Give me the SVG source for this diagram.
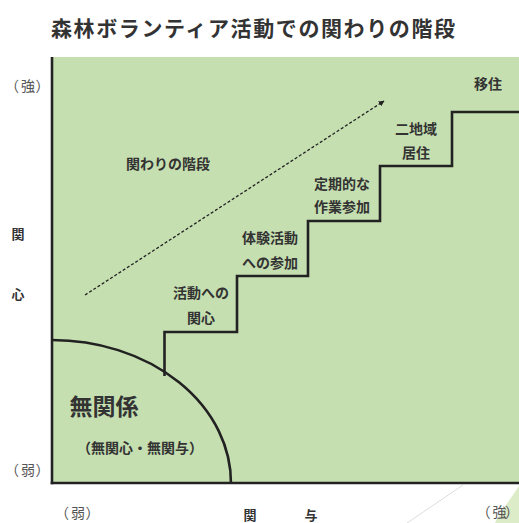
<svg xmlns="http://www.w3.org/2000/svg" width="519" height="523" viewBox="0 0 519 523">
<style>
text{font-family:"Noto Sans CJK JP","Noto Sans",sans-serif;fill:#333;text-anchor:middle;dominant-baseline:central}
.b{font-weight:bold}
.s{font-size:14px;font-weight:bold}
.g{font-size:14px;fill:#555;text-anchor:start}
.line{fill:none;stroke:#222;stroke-width:2.6}
</style>
<defs>
<marker id="ah" viewBox="0 0 10 10" refX="9" refY="5" markerWidth="4.5" markerHeight="4.5" orient="auto">
<path d="M0,0 L10,5 L0,10 z" fill="#222"/>
</marker>
</defs>
<rect width="519" height="523" fill="#fff"/>
<g id="bg-decor">
<path d="M519,486 C510,500 500,512 495,523 L519,523 z" fill="#dcebc8"/>
<line x1="463" y1="485" x2="407" y2="523" stroke="#ddd" stroke-width="1"/>
</g>
<rect id="field" x="52" y="57" width="467" height="426" fill="#c5dfb0"/>
<text x="253" y="27" class="b" style="font-size:21px" textLength="404" lengthAdjust="spacing">森林ボランティア活動での関わりの階段</text>
<g id="axes">
<line class="line" x1="52" y1="57" x2="52" y2="484.3"/>
<line class="line" x1="50.7" y1="483" x2="519" y2="483"/>
<text class="g" y="85"><tspan x="5">（</tspan><tspan x="21">強</tspan><tspan x="35.5">）</tspan></text>
<text class="g" y="469"><tspan x="5">（</tspan><tspan x="21">弱</tspan><tspan x="35.5">）</tspan></text>
<text class="g" y="512"><tspan x="55">（</tspan><tspan x="71">弱</tspan><tspan x="85.5">）</tspan></text>
<text class="g" y="511"><tspan x="476.5">（</tspan><tspan x="492.5">強</tspan><tspan x="505">）</tspan></text>
<text x="18" y="233" class="s" style="font-size:13px">関</text>
<text x="18" y="293" class="s" style="font-size:13px">心</text>
<text x="250" y="514" class="s" style="font-size:13px">関</text>
<text x="311" y="514" class="s" style="font-size:13px">与</text>
</g>
<g id="connectors">
<path class="line" d="M164.5,376 V332 H237 V276 H308 V221 H380 V166 H452 V112 H519"/>
<path class="line" d="M52,340 A179,143 0 0 1 231,484"/>
<line x1="85" y1="295" x2="384" y2="101" stroke="#222" stroke-width="1.3" stroke-dasharray="3,2" marker-end="url(#ah)"/>
</g>
<g id="node-muchaku">
<text x="104" y="405" class="b" style="font-size:23px">無関係</text>
<text x="140" y="447" class="s">（無関心・無関与）</text>
</g>
<g id="node-kaidan"><text x="168" y="163" class="s">関わりの階段</text></g>
<g id="node-step1"><text x="201" y="292" class="s">活動への</text><text x="201" y="317" class="s">関心</text></g>
<g id="node-step2"><text x="270" y="237" class="s">体験活動</text><text x="270" y="262" class="s">への参加</text></g>
<g id="node-step3"><text x="342" y="183" class="s">定期的な</text><text x="342" y="206" class="s">作業参加</text></g>
<g id="node-step4"><text x="416" y="128" class="s">二地域</text><text x="416" y="152" class="s">居住</text></g>
<g id="node-step5"><text x="488" y="83" class="s">移住</text></g>
</svg>
